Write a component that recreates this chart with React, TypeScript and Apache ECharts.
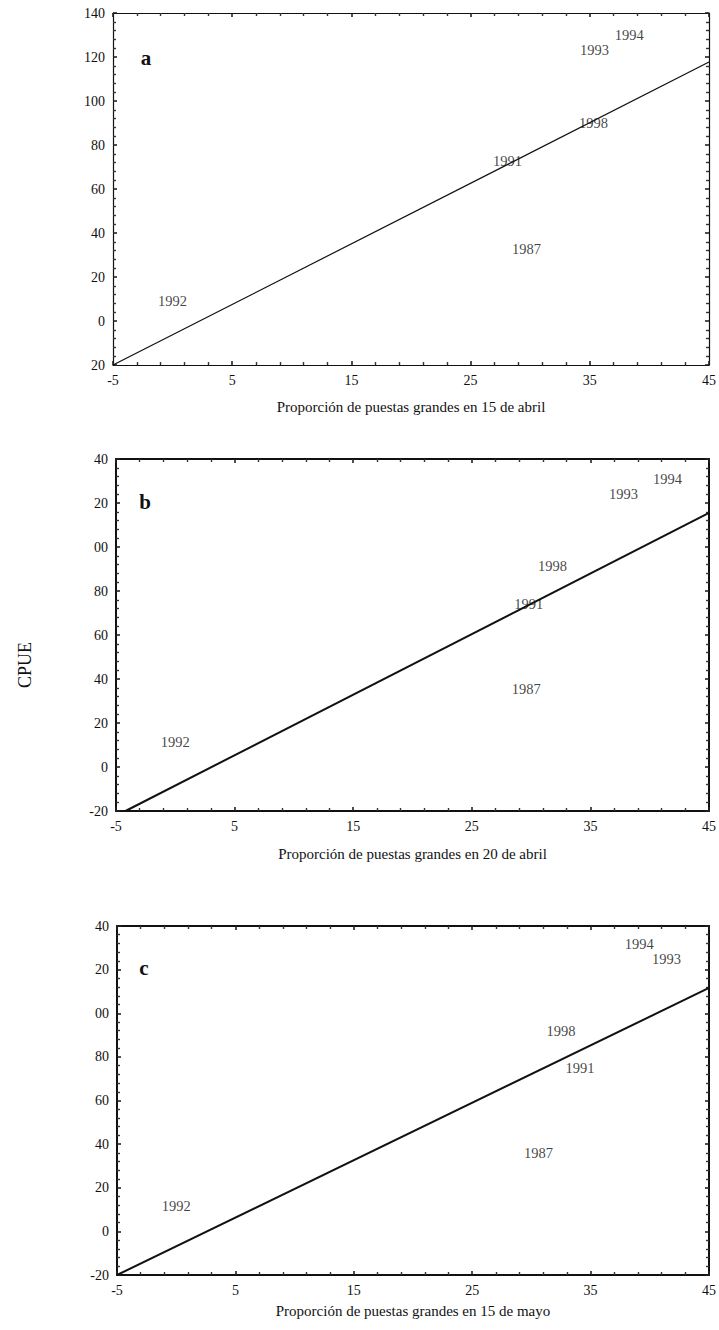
import React, { useEffect, useRef } from "react";
import * as echarts from "echarts";

// ---- data ----
const yearLabels = ["1994", "1993", "1998", "1991", "1987", "1992"];
const xA = [38.3, 35.4, 35.3, 28.1, 29.7, 0.0];
const yA = [130.0, 123.2, 90.0, 72.7, 32.7, 9.1];
const xB = [41.5, 37.8, 31.8, 29.8, 29.6, 0.0];
const yB = [130.9, 124.1, 91.4, 74.1, 35.5, 11.4];
const xC = [39.1, 41.4, 32.5, 34.1, 30.6, 0.0];
const yC = [131.7, 124.9, 91.8, 74.9, 35.9, 11.6];
const fitA = [[-5, -20], [45, 117.7]];
const fitB = [[-4.2, -20], [45, 115.5]];
const fitC = [[-5, -20], [45, 111.6]];
const panelLetters = ["a", "b", "c"];
const xTitles = [
  "Proporción de puestas grandes en 15 de abril",
  "Proporción de puestas grandes en 20 de abril",
  "Proporción de puestas grandes en 15 de mayo",
];
const yTitle = "CPUE";
const xMin = -5, xMax = 45, xStep = 10;
const yMin = -20, yMax = 140, yStep = 20;

const SERIF = "'Liberation Serif', 'DejaVu Serif', serif";

export default function App() {
  const ref = useRef<HTMLDivElement>(null);
  useEffect(() => {
    if (!ref.current) return;
    const chart = echarts.init(ref.current, null, { renderer: "svg" });
    const grids = [
      { left: 113, top: 13, width: 598, height: 352, lw: 1.2, gap: 34 },
      { left: 116, top: 459, width: 595, height: 352, lw: 2, gap: 35 },
      { left: 117, top: 926, width: 594, height: 349, lw: 2, gap: 28 },
    ];
    const fmtA = (v: number) => (v < 0 ? "20" : String(v));
    const fmtBC = (v: number) =>
      v < 0 ? "-20" : v >= 100 ? String(v - 100).padStart(2, "0") : String(v);
    const fmts = [fmtA, fmtBC, fmtBC];
    const xs = [xA, xB, xC];
    const ys = [yA, yB, yC];
    const fits = [fitA, fitB, fitC];

    const xAxis: any[] = [];
    const yAxis: any[] = [];
    const series: any[] = [];
    grids.forEach((g, i) => {
      const lineStyle = { color: "#111", width: g.lw };
      const tick = { show: true, inside: true, length: 4, lineStyle: { color: "#222", width: 1.6 } };
      const minor = { show: true, splitNumber: 5, length: 3, lineStyle: { color: "#333", width: 1.4 } };
      const common = {
        type: "value", gridIndex: i, splitLine: { show: false },
        axisLine: { show: true, onZero: false, lineStyle },
        axisTick: tick, minorTick: minor,
      };
      xAxis.push({
        ...common, min: xMin, max: xMax, interval: xStep, position: "bottom",
        axisLabel: { color: "#111", fontFamily: SERIF, fontSize: 14, margin: 8 },
        name: xTitles[i], nameLocation: "middle", nameGap: g.gap,
        nameTextStyle: { color: "#111", fontFamily: SERIF, fontSize: 15 },
      });
      xAxis.push({
        ...common, min: xMin, max: xMax, interval: xStep, position: "top",
        axisLabel: { show: false },
      });
      yAxis.push({
        ...common, min: yMin, max: yMax, interval: yStep, position: "left",
        axisLabel: { color: "#111", fontFamily: SERIF, fontSize: 14, margin: 8, formatter: fmts[i] },
      });
      yAxis.push({
        ...common, min: yMin, max: yMax, interval: yStep, position: "right",
        axisLabel: { show: false },
      });
      series.push({
        type: "line", xAxisIndex: i * 2, yAxisIndex: i * 2, data: fits[i],
        symbol: "none", lineStyle: { color: "#111", width: g.lw }, silent: true,
      });
      series.push({
        type: "scatter", xAxisIndex: i * 2, yAxisIndex: i * 2,
        data: yearLabels.map((n, k) => ({ name: n, value: [xs[i][k], ys[i][k]] })),
        symbolSize: 1, itemStyle: { color: "rgba(0,0,0,0)" },
        label: {
          show: true, position: "inside", formatter: (p: any) => p.name,
          color: "#111", fontFamily: SERIF, fontSize: 14.5,
        },
        silent: true,
      });
      series.push({
        type: "line", xAxisIndex: i * 2 + 1, yAxisIndex: i * 2 + 1, data: [],
        symbol: "none", silent: true,
      });
    });

    const graphic: any[] = [
      {
        type: "text", x: 25, y: 665, rotation: Math.PI / 2,
        style: {
          text: yTitle, fill: "#111", font: `18px ${SERIF}`,
          textAlign: "center", textVerticalAlign: "middle",
        },
      },
    ];
    const letterPos = [[146, 58], [145, 502], [144, 968]];
    panelLetters.forEach((l, i) => {
      graphic.push({
        type: "text", x: letterPos[i][0], y: letterPos[i][1],
        style: {
          text: l, fill: "#111", font: `bold 21px ${SERIF}`,
          textAlign: "center", textVerticalAlign: "middle",
        },
      });
    });

    chart.setOption({
      animation: false,
      backgroundColor: "#fff",
      grid: grids.map((g) => ({ left: g.left, top: g.top, width: g.width, height: g.height })),
      xAxis, yAxis, series, graphic,
    });
    return () => chart.dispose();
  }, []);
  return (
    <div
      ref={ref}
      style={{ position: "absolute", left: 0, top: 0, width: 719, height: 1330 }}
    />
  );
}
